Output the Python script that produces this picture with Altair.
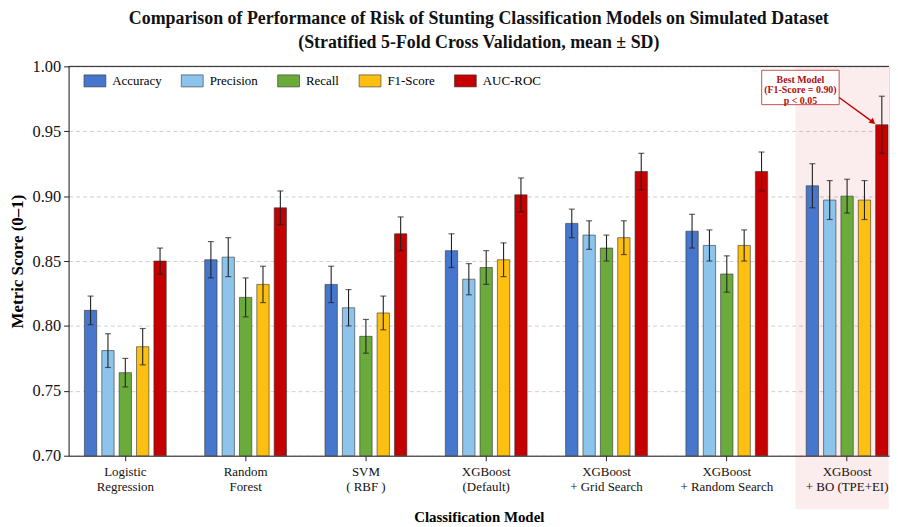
import altair as alt
import pandas as pd

models = ["Logistic\nRegression", "Random\nForest", "SVM\n( RBF )", "XGBoost\n(Default)",
          "XGBoost\n+ Grid Search", "XGBoost\n+ Random Search", "XGBoost\n+ BO (TPE+EI)"]
metrics = ["Accuracy", "Precision", "Recall", "F1-Score", "AUC-ROC"]
colors = ["#4677cc", "#8cc4ec", "#6aab3c", "#fdbf10", "#c40000"]

accuracy = [0.812, 0.851, 0.832, 0.858, 0.879, 0.873, 0.908]
precision = [0.781, 0.853, 0.814, 0.836, 0.870, 0.862, 0.897]
recall = [0.764, 0.822, 0.792, 0.845, 0.860, 0.840, 0.900]
f1 = [0.784, 0.832, 0.810, 0.851, 0.868, 0.862, 0.897]
auc = [0.850, 0.891, 0.871, 0.901, 0.919, 0.919, 0.955]

accuracy_sd = [0.011, 0.014, 0.014, 0.013, 0.011, 0.013, 0.017]
precision_sd = [0.013, 0.015, 0.014, 0.012, 0.011, 0.012, 0.015]
recall_sd = [0.011, 0.015, 0.013, 0.013, 0.010, 0.014, 0.013]
f1_sd = [0.014, 0.014, 0.013, 0.013, 0.013, 0.012, 0.015]
auc_sd = [0.010, 0.013, 0.013, 0.013, 0.014, 0.015, 0.022]

y_ticks = [0.70, 0.75, 0.80, 0.85, 0.90, 0.95, 1.00]
baseline = 0.70
best_model = models[-1]
annot_text = "Best Model\n(F1-Score = 0.90)\np < 0.05"

vals = [accuracy, precision, recall, f1, auc]
sds = [accuracy_sd, precision_sd, recall_sd, f1_sd, auc_sd]
rows = []
for m, v, s in zip(metrics, vals, sds):
    for i, mod in enumerate(models):
        rows.append({"model": mod, "metric": m, "value": v[i], "base": baseline,
                     "lo": v[i] - s[i], "hi": v[i] + s[i]})
df = pd.DataFrame(rows)

FONT = "Liberation Serif"
W, H = 826, 392

xscale = alt.Scale(paddingInner=0.32, paddingOuter=0.07, align=0.94)
X = lambda: alt.X("model:N", sort=models, scale=xscale)
XO = lambda: alt.XOffset("metric:N", sort=metrics, scale=alt.Scale(paddingInner=0.29))
yscale = alt.Scale(domain=[0.70, 1.00], nice=False)

xenc = alt.X("model:N", sort=models, scale=xscale,
             axis=alt.Axis(title="Classification Model", labelAngle=0, labelAlign="center",
                           labelExpr="split(datum.label, '\\n')",
                           labelFontSize=13, labelLineHeight=15, labelColor="#111",
                           titleFontSize=15, titleFontWeight="bold", titlePadding=16,
                           domainColor="#222", tickColor="#222", labelPadding=11))

band_df = pd.DataFrame({"model": [best_model]})
band = alt.Chart(band_df).mark_bar(width=94, xOffset=-5, color="#c40000", opacity=0.07).encode(
    x=X(), y=alt.value(0), y2=alt.value(446))

bars = alt.Chart(df).mark_bar(stroke="#333", strokeWidth=0.6).encode(
    x=xenc, xOffset=XO(),
    y=alt.Y("value:Q", scale=yscale,
            axis=alt.Axis(title="Metric Score (0–1)", values=y_ticks, format=".2f",
                          labelFontSize=16.5, labelColor="#111", titleFontSize=17,
                          titleFontWeight="bold", titlePadding=6, grid=True,
                          gridDash=[4, 3], gridColor="#cfcfcf", domainColor="#222",
                          tickColor="#222", labelPadding=3)),
    y2="base:Q",
    color=alt.Color("metric:N", sort=metrics,
                    scale=alt.Scale(domain=metrics, range=colors),
                    legend=alt.Legend(title=None, orient="none", legendX=15, legendY=3,
                                      direction="horizontal",
                                      symbolType="M-1,-0.55L1,-0.55L1,0.55L-1,0.55Z",
                                      symbolSize=484, symbolStrokeColor="#333",
                                      symbolStrokeWidth=0.6, labelFontSize=13,
                                      labelFont=FONT, columnPadding=18, labelOffset=6)))

err = alt.Chart(df).mark_rule(color="#222", strokeWidth=1.1).encode(
    x=X(), xOffset=XO(), y=alt.Y("lo:Q", scale=yscale), y2="hi:Q")
cap_lo = alt.Chart(df).mark_tick(color="#222", size=6, thickness=1.2).encode(
    x=X(), xOffset=XO(), y=alt.Y("lo:Q", scale=yscale))
cap_hi = alt.Chart(df).mark_tick(color="#222", size=6, thickness=1.2).encode(
    x=X(), xOffset=XO(), y=alt.Y("hi:Q", scale=yscale))

top_line = alt.Chart(band_df).mark_rule(color="#222", strokeWidth=1).encode(y=alt.value(0))

ann_df = pd.DataFrame({"model": [best_model], "top": [0.997], "bot": [0.9705],
                       "ttop": [0.9935], "a1": [0.976], "a2": [0.957], "text": [annot_text]})
box = alt.Chart(ann_df).mark_bar(width=78, xOffset=-47, fill="white", fillOpacity=0.85,
                                 stroke="#c9504f", strokeWidth=1).encode(
    x=X(), y=alt.Y("top:Q", scale=yscale), y2="bot:Q")
txt = alt.Chart(ann_df).mark_text(xOffset=-47, font=FONT, fontSize=10, fontWeight="bold",
                                  color="#b01010", lineBreak="\n", lineHeight=10.5,
                                  baseline="top").encode(
    x=X(), y=alt.Y("ttop:Q", scale=yscale), text="text:N")
arrow = alt.Chart(ann_df).mark_rule(xOffset=-8, x2Offset=26, color="#c40000",
                                    strokeWidth=1.4).encode(
    x=X(), x2="model:N", y=alt.Y("a1:Q", scale=yscale), y2="a2:Q")
head = alt.Chart(ann_df).mark_point(shape="triangle-down", xOffset=26, angle=310,
                                    filled=True, color="#c40000", size=45, opacity=1).encode(
    x=X(), y=alt.Y("a2:Q", scale=yscale))

chart = alt.layer(band, bars, err, cap_lo, cap_hi, top_line, box, txt, arrow, head).properties(
    width=W, height=H,
    title=alt.TitleParams(
        text=["Comparison of Performance of Risk of Stunting Classification Models on Simulated Dataset",
              "(Stratified 5-Fold Cross Validation, mean ± SD)"],
        font=FONT, fontSize=18, fontWeight="bold", lineHeight=25, anchor="middle",
        color="#111", offset=6),
    padding={"left": 0, "top": 0, "right": 0, "bottom": 0}
).configure_view(stroke=None).configure(font=FONT).configure_axis(
    labelFont=FONT, titleFont=FONT)

chart.save("out.html", embed_options={"renderer": "svg", "actions": False})
